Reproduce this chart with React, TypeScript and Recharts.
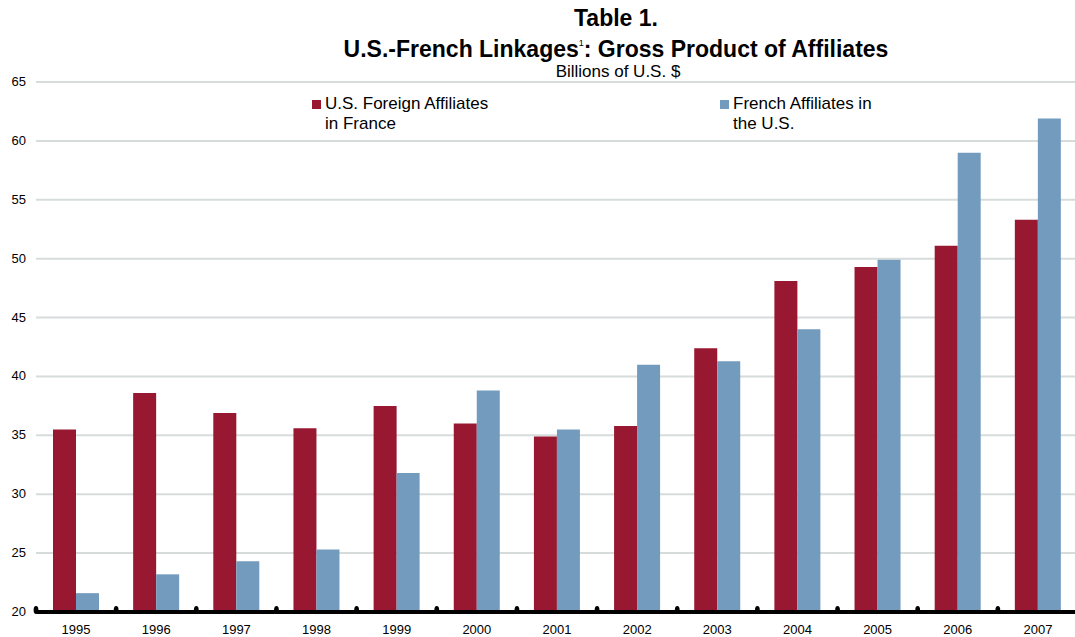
import { BarChart, Bar, XAxis, YAxis, CartesianGrid } from "recharts";

const years = ["1995", "1996", "1997", "1998", "1999", "2000", "2001", "2002", "2003", "2004", "2005", "2006", "2007"];
const usInFrance = [35.5, 38.6, 36.9, 35.6, 37.5, 36.0, 34.9, 35.8, 42.4, 48.1, 49.3, 51.1, 53.3];
const frenchInUS = [21.6, 23.2, 24.3, 25.3, 31.8, 38.8, 35.5, 41.0, 41.3, 44.0, 49.9, 59.0, 61.9];
const yTicks = [20, 25, 30, 35, 40, 45, 50, 55, 60, 65];

const RED = "#971830";
const BLUE = "#739bbe";
const FONT = "Arial, 'Liberation Sans', sans-serif";

const CHART_W = 1078;
const CHART_H = 637;
const PLOT_LEFT = 36;
const PLOT_TOP = 82;
const X_AXIS_H = 25;
const PLOT_BOTTOM = CHART_H - X_AXIS_H;
const BAND = (CHART_W - PLOT_LEFT) / years.length;

const data = years.map((year, i) => ({
  year,
  us: usInFrance[i],
  fr: frenchInUS[i],
}));

// year label at band centre, black dot on the axis at the band's left edge
const XTick = ({ x, payload }: { x?: number; payload?: { value: string } }) => {
  const cx = x ?? 0;
  return (
    <g>
      <ellipse cx={cx - BAND / 2} cy={PLOT_BOTTOM - 2} rx={2.4} ry={4} fill="#000" />
      <text x={cx} y={PLOT_BOTTOM + 22} textAnchor="middle" fontSize={13} fontFamily={FONT} fill="#000">
        {payload?.value}
      </text>
    </g>
  );
};

const YTick = ({ y, payload }: { y?: number; payload?: { value: number } }) => (
  <text x={26} y={(y ?? 0) + 4} textAnchor="end" fontSize={13} fontFamily={FONT} fill="#000">
    {payload?.value}
  </text>
);

const LegendItem = ({ color, lines, left }: { color: string; lines: string[]; left: number }) => (
  <div style={{ position: "absolute", left, top: 94, display: "flex" }}>
    <div style={{ width: 9, height: 9, background: color, marginTop: 6, marginRight: 4 }} />
    <div style={{ fontSize: 17, lineHeight: "20px", color: "#000", fontFamily: FONT }}>
      {lines.map((l) => (
        <div key={l}>{l}</div>
      ))}
    </div>
  </div>
);

export default function App() {
  return (
    <div
      style={{
        position: "absolute",
        left: 0,
        top: 0,
        width: 1075,
        height: CHART_H,
        overflow: "hidden",
        background: "#fff",
        fontFamily: FONT,
      }}
    >
      <BarChart
        width={CHART_W}
        height={CHART_H}
        data={data}
        margin={{ top: PLOT_TOP, right: 0, bottom: 0, left: 0 }}
        barGap={0}
        barSize={23}
      >
        <CartesianGrid horizontal vertical={false} stroke="#d6dcdc" strokeWidth={2} />
        <YAxis
          domain={[20, 65]}
          ticks={yTicks}
          width={PLOT_LEFT}
          axisLine={false}
          tickLine={false}
          tick={<YTick />}
          allowDataOverflow
        />
        <XAxis
          dataKey="year"
          height={X_AXIS_H}
          axisLine={{ stroke: "#000", strokeWidth: 4 }}
          tickLine={false}
          tick={<XTick />}
          interval={0}
        />
        <Bar dataKey="us" name="U.S. Foreign Affiliates in France" fill={RED} isAnimationActive={false} />
        <Bar dataKey="fr" name="French Affiliates in the U.S." fill={BLUE} isAnimationActive={false} />
      </BarChart>

      <div style={{ position: "absolute", left: 0, top: 3, width: 1232, textAlign: "center", fontWeight: "bold", fontSize: 23, lineHeight: "31px", color: "#000" }}>
        <div>Table 1.</div>
        <div>
          U.S.-French Linkages<sup style={{ fontSize: 9, fontWeight: "normal", verticalAlign: "top", lineHeight: "18px" }}>1</sup>: Gross Product of Affiliates
        </div>
      </div>
      <div style={{ position: "absolute", left: 0, top: 62, width: 1236, textAlign: "center", fontSize: 17, lineHeight: "20px", color: "#000" }}>
        Billions of U.S. $
      </div>

      <LegendItem color={RED} lines={["U.S. Foreign Affiliates", "in France"]} left={312} />
      <LegendItem color={BLUE} lines={["French Affiliates in", "the U.S."]} left={720} />
    </div>
  );
}
